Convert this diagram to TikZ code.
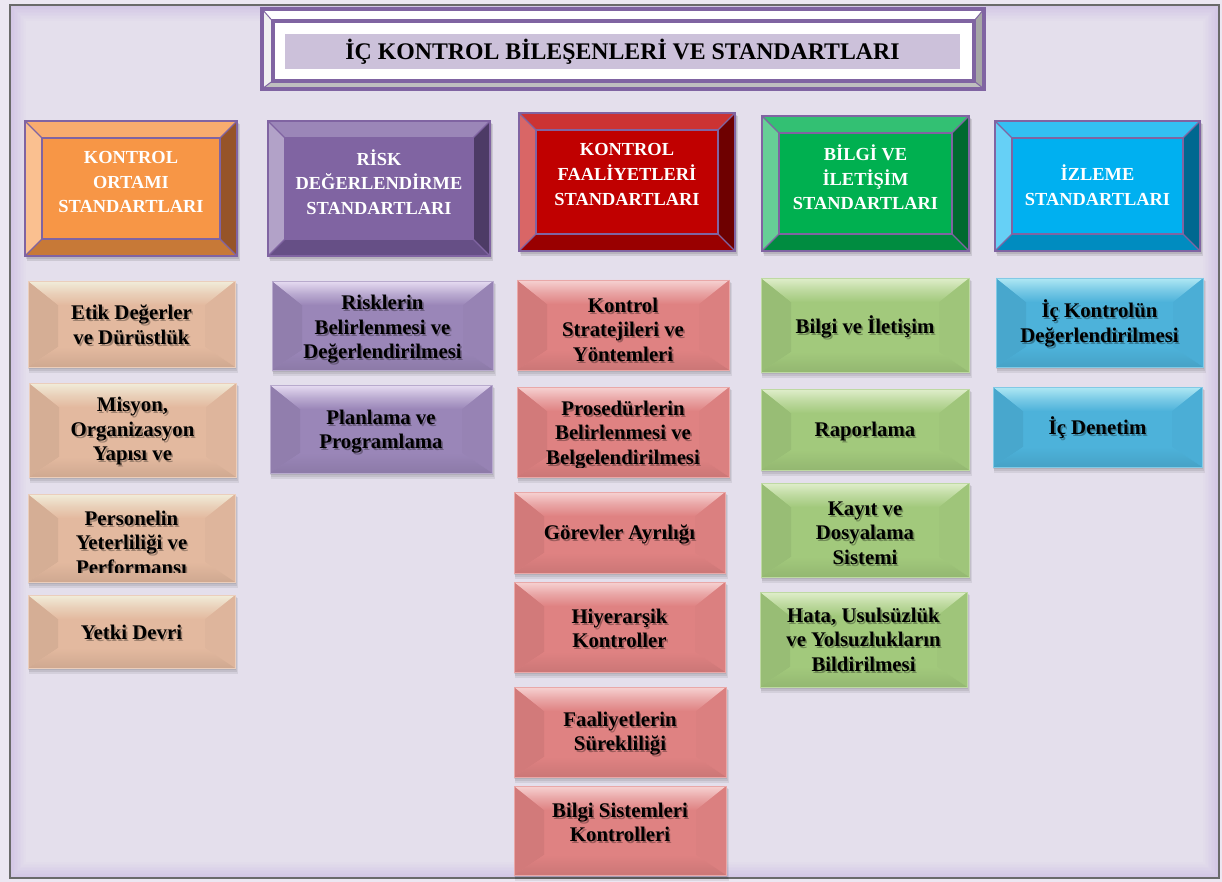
\documentclass[tikz,border=0pt]{standalone}
\usepackage{fontspec}
\setmainfont{Liberation Serif}
\usetikzlibrary{calc}

% page and frame
\definecolor{pageBg}{HTML}{ECE7F2}
\definecolor{panelBg}{HTML}{E4DFEC}
\definecolor{glowPurple}{HTML}{C0ABDF}
\definecolor{frameGray}{HTML}{6A6A6A}
% title frame
\definecolor{titlePurple}{HTML}{8064A2}
\definecolor{titleBand}{HTML}{CCC1DA}
\definecolor{bevLeft}{HTML}{F0F0F0}
\definecolor{bevBottom}{HTML}{BFBFBF}
\definecolor{bevRight}{HTML}{A6A6A6}
% header bevels: F face, T top, L left, R right, B bottom
\definecolor{orF}{HTML}{F79646}\definecolor{orT}{HTML}{F8AC6E}\definecolor{orL}{HTML}{FAC090}\definecolor{orR}{HTML}{965428}\definecolor{orB}{HTML}{C77937}
\definecolor{puF}{HTML}{8064A2}\definecolor{puT}{HTML}{9B86B8}\definecolor{puL}{HTML}{B2A2C8}\definecolor{puR}{HTML}{4D3B66}\definecolor{puB}{HTML}{664F86}
\definecolor{reF}{HTML}{C00000}\definecolor{reT}{HTML}{CC3333}\definecolor{reL}{HTML}{D96666}\definecolor{reR}{HTML}{6E0000}\definecolor{reB}{HTML}{990000}
\definecolor{grF}{HTML}{00B050}\definecolor{grT}{HTML}{33C073}\definecolor{grL}{HTML}{66CF96}\definecolor{grR}{HTML}{006A30}\definecolor{grB}{HTML}{008C40}
\definecolor{blF}{HTML}{00B0F0}\definecolor{blT}{HTML}{33C0F3}\definecolor{blL}{HTML}{66D0F6}\definecolor{blR}{HTML}{006890}\definecolor{blB}{HTML}{008CC0}
% item boxes: F face, H highlight
\definecolor{tanF}{HTML}{E3B99F}\definecolor{tanH}{HTML}{F1EDDA}
\definecolor{lavF}{HTML}{9A86B8}\definecolor{lavH}{HTML}{E6DCF2}
\definecolor{pinkF}{HTML}{DF8282}\definecolor{pinkH}{HTML}{F6D2D2}
\definecolor{leafF}{HTML}{A2C97C}\definecolor{leafH}{HTML}{E0EECB}
\definecolor{skyF}{HTML}{4DB2DA}\definecolor{skyH}{HTML}{B0E8F4}

\tikzset{
  hdrtext/.style={text=white, align=center, inner sep=0pt,
    font=\fontsize{18.4}{24.7}\selectfont\bfseries},
  itemtext/.style={text=black, align=center, inner sep=0pt,
    font=\fontsize{20.8}{24.5}\selectfont\bfseries},
  titletext/.style={text=black, inner sep=0pt,
    font=\fontsize{23.8}{28}\selectfont\bfseries},
  edge/.style={draw=titlePurple, line width=1.1pt},
}

% bevelled header: #1 name, #2 colour prefix, #3 x1, #4 y1, #5 x2, #6 y2, #7 text y, #8 text
\newcommand\hdrbox[8]{%
  \fill[black, opacity=0.10] ({#3+2},{#4+3}) rectangle ({#5+3},{#6+5});
  \fill[black, opacity=0.10] ({#3+1},{#4+2}) rectangle ({#5+2},{#6+3});
  \fill[#2F] (#3,#4) rectangle (#5,#6);
  \fill[#2T] (#3,#4) -- (#5,#4) -- ({#5-17},{#4+17}) -- ({#3+17},{#4+17}) -- cycle;
  \fill[#2L] (#3,#4) -- ({#3+17},{#4+17}) -- ({#3+17},{#6-17}) -- (#3,#6) -- cycle;
  \fill[#2R] (#5,#4) -- ({#5-17},{#4+17}) -- ({#5-17},{#6-17}) -- (#5,#6) -- cycle;
  \fill[#2B] (#3,#6) -- ({#3+17},{#6-17}) -- ({#5-17},{#6-17}) -- (#5,#6) -- cycle;
  \draw[edge] (#3,#4) rectangle (#5,#6);
  \draw[edge] ({#3+17},{#4+17}) rectangle ({#5-17},{#6-17});
  \draw[edge] (#3,#4) -- ({#3+17},{#4+17}) (#5,#4) -- ({#5-17},{#4+17})
              (#3,#6) -- ({#3+17},{#6-17}) (#5,#6) -- ({#5-17},{#6-17});
  \node[hdrtext] (#1) at ({(#3+#5)/2},#7) {#8};
}

% bevelled item: #1 name, #2 x1, #3 y1, #4 x2, #5 y2, #6 colour prefix, #7 text y, #8 clip y, #9 text
\newcommand\itembox[9]{%
  \fill[black, opacity=0.07] ({#2+1},{#3+3}) rectangle ({#4+3},{#5+6});
  \fill[black, opacity=0.08] ({#2+1},{#3+2}) rectangle ({#4+2},{#5+4});
  \fill[black, opacity=0.08] (#2,{#3+1}) rectangle ({#4+1},{#5+2});
  \fill[#6F] (#2,#3) rectangle (#4,#5);
  \fill[#6F!94!black] (#2,#3) -- ({#2+30},{#3+24}) -- ({#2+30},{#5-20}) -- (#2,#5) -- cycle;
  \fill[#6F!98!black] (#4,#3) -- ({#4-30},{#3+24}) -- ({#4-30},{#5-20}) -- (#4,#5) -- cycle;
  \shade[top color=#6F, bottom color=#6F!91!black] (#2,#5) -- ({#2+30},{#5-20}) -- ({#4-30},{#5-20}) -- (#4,#5) -- cycle;
  \shade[top color=#6H, bottom color=#6F, middle color=#6F!55!#6H] (#2,#3) -- (#4,#3) -- ({#4-30},{#3+24}) -- ({#2+30},{#3+24}) -- cycle;
  \draw[#6F!70!white, line width=0.8pt] (#2,#3) rectangle (#4,#5);
  \begin{scope}
    \clip (#2,#3) rectangle (#4,#8);
    \node[itemtext, opacity=0.3] (#1s) at ({(#2+#4)/2+1.6},{#7+2}) {#9};
    \node[itemtext] (#1) at ({(#2+#4)/2},#7) {#9};
  \end{scope}
}

\begin{document}
\begin{tikzpicture}[x=1pt, y=-1pt, line join=miter]
\useasboundingbox (0,0) rectangle (1222,882);

% panel with soft inner glow and grey rim
\fill[pageBg] (0,0) rectangle (1222,882);
\fill[panelBg] (10,5) rectangle (1219,878);
\foreach \i in {0,...,9} {
  \pgfmathsetmacro\op{0.45*(1-\i/10)}
  \draw[glowPurple, line width=1.6pt, opacity=\op]
    ({11.5+\i*1.5},{6.5+\i*1.5}) rectangle ({1217.5-\i*1.5},{876.5-\i*1.5});
}
\draw[frameGray, line width=2.5pt] (10,5) rectangle (1219,878);

% title frame
\fill[white] (262,9) rectangle (984,89);
\fill[bevLeft] (262,9) -- (272.5,21) -- (272.5,81) -- (262,89) -- cycle;
\fill[bevBottom] (262,89) -- (272.5,81) -- (974,81) -- (984,89) -- cycle;
\fill[bevRight] (984,9) -- (974,21) -- (974,81) -- (984,89) -- cycle;
\draw[titlePurple, line width=1pt] (262,9) -- (272.5,21) (984,9) -- (974,21)
  (262,89) -- (272.5,81) (984,89) -- (974,81);
\draw[titlePurple, line width=4pt] (262,9) rectangle (984,89);
\draw[titlePurple, line width=4pt, fill=white] (272.5,21) rectangle (974,81);
\fill[titleBand] (285,34) rectangle (960,69);
\node[titletext] (title) at (622.5,51.5) {İÇ KONTROL BİLEŞENLERİ VE STANDARTLARI};

% component headers
\hdrbox{hKO}{or}{25}{121}{237}{256}{182}{KONTROL\\ORTAMI\\STANDARTLARI}
\hdrbox{hRD}{pu}{268}{121}{490}{256}{182}{RİSK\\DEĞERLENDİRME\\STANDARTLARI}
\hdrbox{hKF}{re}{519}{113}{735}{251}{174.5}{KONTROL\\FAALİYETLERİ\\STANDARTLARI}
\hdrbox{hBI}{gr}{762}{116}{969}{251}{177.5}{BİLGİ VE\\İLETİŞİM\\STANDARTLARI}
\hdrbox{hIZ}{bl}{995}{121}{1200}{251}{185.5}{İZLEME\\STANDARTLARI}

% control environment
\itembox{etik}{28}{281}{235}{367}{tan}{325}{367}{Etik Değerler\\ve Dürüstlük}
\itembox{misyon}{29}{383}{236}{477}{tan}{431}{477}{Misyon,\\Organizasyon\\Yapısı ve}
\itembox{personel}{28}{494}{235}{582}{tan}{542.5}{572}{Personelin\\Yeterliliği ve\\Performansı}
\itembox{yetki}{28}{595}{235}{668}{tan}{632}{668}{Yetki Devri}

% risk assessment
\itembox{riskler}{272}{281}{493}{370}{lav}{329.5}{370}{Risklerin\\Belirlenmesi ve\\Değerlendirilmesi}
\itembox{planlama}{270}{385}{492}{473}{lav}{431.5}{473}{Planlama ve\\Programlama}

% control activities
\itembox{strateji}{517}{280}{729}{370}{pink}{329.5}{370}{Kontrol\\Stratejileri ve\\Yöntemleri}
\itembox{prosedur}{517}{387}{729}{477}{pink}{435}{467}{Prosedürlerin\\Belirlenmesi ve\\Belgelendirilmesi}
\itembox{gorevler}{514}{492}{725}{573}{pink}{534}{573}{Görevler Ayrılığı}
\itembox{hiyerarsi}{514}{582}{725}{672}{pink}{628.5}{672}{Hiyerarşik\\Kontroller}
\itembox{sureklilik}{514}{687}{726}{777}{pink}{733.5}{777}{Faaliyetlerin\\Sürekliliği}
\itembox{bilgisis}{514}{786}{726}{875}{pink}{822.5}{875}{Bilgi Sistemleri\\Kontrolleri}

% information and communication
\itembox{iletisim}{761}{278}{969}{372}{leaf}{327}{372}{Bilgi ve İletişim}
\itembox{rapor}{761}{389}{969}{470}{leaf}{431}{470}{Raporlama}
\itembox{kayit}{761}{483}{969}{577}{leaf}{533}{577}{Kayıt ve\\Dosyalama\\Sistemi}
\itembox{hata}{760}{592}{967}{687}{leaf}{639.5}{687}{Hata, Usulsüzlük\\ve Yolsuzlukların\\Bildirilmesi}

% monitoring
\itembox{degerlendirme}{996}{278}{1203}{367}{sky}{323.5}{367}{İç Kontrolün\\Değerlendirilmesi}
\itembox{denetim}{993}{387}{1202}{467}{sky}{428}{467}{İç Denetim}

\end{tikzpicture}
\end{document}
